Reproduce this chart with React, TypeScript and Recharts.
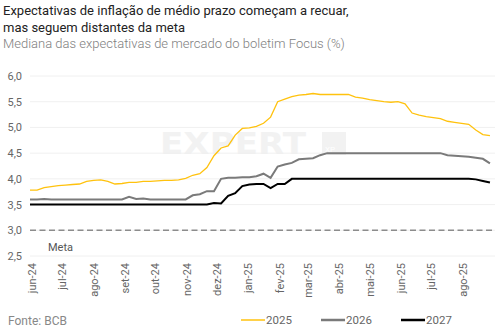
import React from 'react';
import { LineChart, Line, XAxis, YAxis, CartesianGrid, ReferenceLine } from 'recharts';

// Focus medians, weekly readings from 31/05/2024 to 29/08/2025
const IPCA_2025 = [
  3.78, 3.78, 3.83, 3.85, 3.87, 3.88, 3.89, 3.9, 3.95, 3.97, 3.98, 3.95, 3.9, 3.91, 3.93, 3.93,
  3.95, 3.95, 3.96, 3.97, 3.97, 3.98, 4.01, 4.07, 4.1, 4.22, 4.45, 4.6, 4.64, 4.85, 4.98, 4.99,
  5.02, 5.08, 5.2, 5.5, 5.55, 5.6, 5.63, 5.64, 5.66, 5.64, 5.64, 5.64, 5.64, 5.64, 5.59, 5.57,
  5.54, 5.52, 5.5, 5.49, 5.5, 5.46, 5.28, 5.24, 5.21, 5.19, 5.17, 5.12, 5.1, 5.08, 5.06, 4.95,
  4.86, 4.84,
];
const IPCA_2026 = [
  3.6, 3.6, 3.61, 3.6, 3.6, 3.6, 3.6, 3.6, 3.6, 3.6, 3.6, 3.6, 3.6, 3.6, 3.65, 3.61,
  3.62, 3.6, 3.6, 3.6, 3.6, 3.6, 3.6, 3.68, 3.7, 3.76, 3.76, 4.0, 4.02, 4.02, 4.03, 4.03,
  4.05, 4.1, 4.02, 4.24, 4.28, 4.31, 4.38, 4.39, 4.4, 4.46, 4.5, 4.5, 4.5, 4.5, 4.5, 4.5,
  4.5, 4.5, 4.5, 4.5, 4.5, 4.5, 4.5, 4.5, 4.5, 4.5, 4.5, 4.46, 4.45, 4.44, 4.43, 4.41,
  4.39, 4.3,
];
const IPCA_2027 = [
  3.5, 3.5, 3.5, 3.5, 3.5, 3.5, 3.5, 3.5, 3.5, 3.5, 3.5, 3.5, 3.5, 3.5, 3.5, 3.5,
  3.5, 3.5, 3.5, 3.5, 3.5, 3.5, 3.5, 3.5, 3.5, 3.5, 3.53, 3.52, 3.67, 3.72, 3.86, 3.89,
  3.9, 3.9, 3.82, 3.9, 3.9, 4.0, 4.0, 4.0, 4.0, 4.0, 4.0, 4.0, 4.0, 4.0, 4.0, 4.0,
  4.0, 4.0, 4.0, 4.0, 4.0, 4.0, 4.0, 4.0, 4.0, 4.0, 4.0, 4.0, 4.0, 4.0, 4.0, 3.99,
  3.96, 3.93,
];

const MONTH_STARTS = [
  '2024-06-01', '2024-07-01', '2024-08-01', '2024-09-01', '2024-10-01', '2024-11-01', '2024-12-01',
  '2025-01-01', '2025-02-01', '2025-03-01', '2025-04-01', '2025-05-01', '2025-06-01', '2025-07-01',
  '2025-08-01',
];
const MONTH_LABELS = [
  'jun-24', 'jul-24', 'ago-24', 'set-24', 'out-24', 'nov-24', 'dez-24',
  'jan-25', 'fev-25', 'mar-25', 'abr-25', 'mai-25', 'jun-25', 'jul-25', 'ago-25',
];
const Y_TICKS = [2.5, 3, 3.5, 4, 4.5, 5, 5.5, 6];
const META = 3;

const FIRST_DAY = Date.UTC(2024, 4, 31);
const DAY = 86400000;
const dayOf = (iso: string) => Math.round((Date.parse(iso + 'T00:00:00Z') - FIRST_DAY) / DAY);

const data = IPCA_2025.map((v, i) => ({
  d: i * 7,
  a2025: v,
  a2026: IPCA_2026[i],
  a2027: IPCA_2027[i],
}));
const monthTicks = MONTH_STARTS.map(dayOf);

const FONT = 'Roboto, "Noto Sans", sans-serif';

const XTick = (props: any) => {
  const { x, payload } = props;
  const idx = monthTicks.indexOf(payload.value);
  const tx = x + 5;
  const ty = 263;
  return (
    <text x={tx} y={ty} transform={`rotate(-90 ${tx} ${ty})`} textAnchor="end" fontSize={11} fill="#666" fontFamily={FONT}>
      {MONTH_LABELS[idx]}
    </text>
  );
};

const YTick = (props: any) => {
  const { y, payload } = props;
  return (
    <text x={22} y={y + 4} textAnchor="end" fontSize={11} fill="#666" fontFamily={FONT}>
      {payload.value.toFixed(1).replace('.', ',')}
    </text>
  );
};

const MetaLabel = (props: any) => {
  const { viewBox } = props;
  return (
    <text x={viewBox.x + 18} y={viewBox.y + 21} fontSize={11} fill="#555" fontFamily={FONT}>
      Meta
    </text>
  );
};

const legendItems = [
  { label: '2025', color: '#FFC20E', x: 241, w: 1.5 },
  { label: '2026', color: '#7a7a7a', x: 321, w: 2.5 },
  { label: '2027', color: '#000000', x: 401, w: 2.5 },
];

export default function App() {
  return (
    <div style={{ position: 'absolute', left: 0, top: 0, width: 502, height: 335, background: '#fff', fontFamily: FONT }}>
      {/* watermark */}
      <svg width={502} height={335} style={{ position: 'absolute', left: 0, top: 0 }}>
        <text x={160} y={154} fontSize={30} fontWeight={900} fill="#f2f2f2" textLength={146} lengthAdjust="spacingAndGlyphs" fontFamily="DejaVu Sans">
          EXPERT
        </text>
        <rect x={322} y={132} width={24} height={23} fill="#f2f2f2" />
        <text x={325} y={152} fontSize={8} fill="#fff" fontFamily={FONT}>XP</text>
      </svg>

      <div style={{ position: 'absolute', left: 0, top: 0 }}>
        <LineChart width={502} height={335} data={data} margin={{ top: 76, right: 7, left: 0, bottom: 0 }}>
          <CartesianGrid vertical={false} stroke="#f0f0f0" />
          <XAxis
            dataKey="d"
            type="number"
            domain={[0, 460]}
            ticks={monthTicks}
            interval={0}
            axisLine={false}
            tickLine={false}
            height={79}
            tick={<XTick />}
          />
          <YAxis
            type="number"
            domain={[2.5, 6]}
            ticks={Y_TICKS}
            interval={0}
            axisLine={false}
            tickLine={false}
            width={30}
            tick={<YTick />}
          />
          <ReferenceLine y={META} stroke="#8c8c8c" strokeWidth={1.5} strokeDasharray="6 3.5" label={<MetaLabel />} />
          <Line type="linear" dataKey="a2025" stroke="#FFC20E" strokeWidth={1.3} dot={false} isAnimationActive={false} />
          <Line type="linear" dataKey="a2026" stroke="#7a7a7a" strokeWidth={2} dot={false} isAnimationActive={false} />
          <Line type="linear" dataKey="a2027" stroke="#000000" strokeWidth={2} dot={false} isAnimationActive={false} />
        </LineChart>
      </div>

      {/* titles, source and legend */}
      <svg width={502} height={335} style={{ position: 'absolute', left: 0, top: 0, pointerEvents: 'none' }}>
        <text x={3} y={15} fontSize={13} fill="#222" fontFamily={FONT}>
          Expectativas de inflação de médio prazo começam a recuar,
        </text>
        <text x={3} y={32} fontSize={13} fill="#222" fontFamily={FONT}>
          mas seguem distantes da meta
        </text>
        <text x={3} y={48} fontSize={13} fill="#808080" fontWeight={300} fontFamily={FONT}>
          Mediana das expectativas de mercado do boletim Focus (%)
        </text>
        <text x={8} y={325} fontSize={12} fill="#888" fontFamily={FONT}>
          Fonte: BCB
        </text>
        {legendItems.map((it) => (
          <g key={it.label}>
            <line x1={it.x} x2={it.x + 24} y1={320} y2={320} stroke={it.color} strokeWidth={it.w} />
            <text x={it.x + 25} y={324} fontSize={11.5} fill="#666" fontFamily={FONT}>
              {it.label}
            </text>
          </g>
        ))}
      </svg>
    </div>
  );
}
